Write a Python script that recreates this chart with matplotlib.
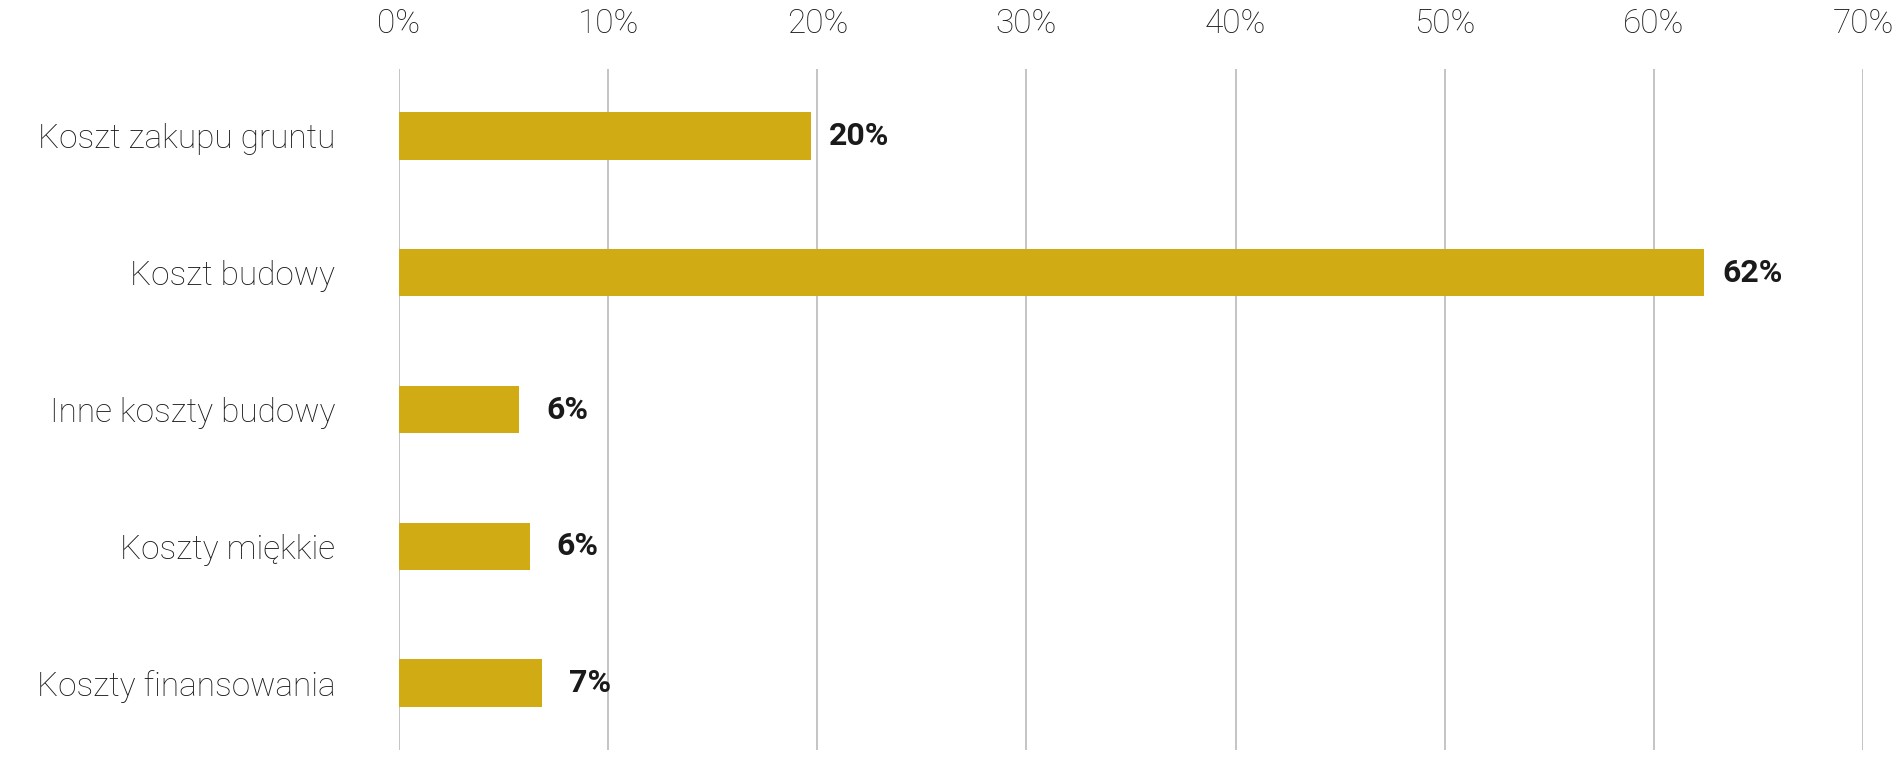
import numpy as np
import matplotlib.pyplot as plt

# Struktura kosztów inwestycji
kategorie = ['Koszt zakupu gruntu', 'Koszt budowy', 'Inne koszty budowy',
             'Koszty miękkie', 'Koszty finansowania']
udzial = [19.7, 62.4, 5.75, 6.25, 6.85]
etykiety = ['20%', '62%', '6%', '6%', '7%']
ticki = [0, 10, 20, 30, 40, 50, 60, 70]

kolor = '#D1AB14'
tekst = '#1a1a1a'

plt.rcParams['font.family'] = ['Roboto', 'DejaVu Sans']

fig = plt.figure(figsize=(19.02, 7.63), dpi=100)
ax = fig.add_axes([0.2098, 0.017, 0.7697, 0.8926])

y = np.arange(len(kategorie))
ax.barh(y, udzial, height=0.345, color=kolor, zorder=3)

# etykiety wartosci wysrodkowane w stalej odleglosci od konca slupka
for i in range(len(y)):
    ax.text(udzial[i] + 2.3, y[i], etykiety[i], va='center', ha='center',
            fontsize=23, fontweight='bold', color=tekst)

ax.set_xlim(0, 70)
ax.set_ylim(len(kategorie) - 0.51, -0.49)
ax.set_xticks(ticki)
ax.set_xticklabels([f'{t}%' for t in ticki], fontsize=24, fontweight='light', color=tekst)
ax.xaxis.tick_top()
ax.tick_params(axis='x', length=0, pad=21)
ax.set_yticks(y)
ax.set_yticklabels(kategorie, fontsize=24, fontweight='light', color=tekst)
ax.tick_params(axis='y', length=0, pad=46)

ax.grid(axis='x', color='#BFBFBF', linewidth=1.3, zorder=0)
ax.set_axisbelow(True)
for s in ax.spines.values():
    s.set_visible(False)

plt.savefig('out.png', dpi=100)
